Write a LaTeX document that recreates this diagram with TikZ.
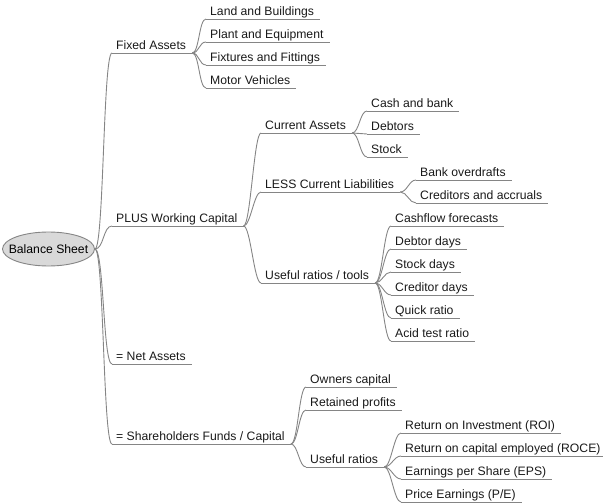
\documentclass[tikz,border=0pt]{standalone}
\usepackage{fontspec}
\setmainfont{Liberation Sans}
\usetikzlibrary{shapes.geometric}

\definecolor{linegray}{HTML}{858585}
\definecolor{rootfill}{HTML}{D9D9D9}

\begin{document}
\begin{tikzpicture}[
  x=1pt, y=-1pt,
  topic/.style={anchor=south west, inner xsep=4pt, inner ysep=1pt, text height=9pt, text depth=2.5pt, font=\fontsize{12.2}{14}\selectfont, text=black!90},
  rootnode/.style={ellipse, draw=linegray, fill=rootfill, line width=0.9pt, minimum width=92pt, minimum height=34pt, inner xsep=-8pt, inner ysep=0pt, font=\fontsize{12.2}{14}\selectfont},
  uline/.style={draw=linegray, line width=0.9pt},
  link/.style={draw=linegray, line width=0.9pt},
]
\useasboundingbox (0,0) rectangle (603,503);

% --- Root ---
\node[rootnode] (root) at (48.5,249) {Balance Sheet};

% --- First level ---
\node[topic] (fa) at (112,53) {Fixed Assets};
\node[topic] (wc) at (112,226) {PLUS Working Capital};
\node[topic] (na) at (112,364) {= Net Assets};
\node[topic] (sf) at (112,444) {= Shareholders Funds / Capital};

% --- Fixed Assets ---
\node[topic] (lb) at (206,19) {Land and Buildings};
\node[topic] (pe) at (206,42) {Plant and Equipment};
\node[topic] (ff) at (206,65) {Fixtures and Fittings};
\node[topic] (mv) at (206,88) {Motor Vehicles};

% --- Working Capital ---
\node[topic] (ca) at (261,133) {Current Assets};
\node[topic] (cl) at (261,192) {LESS Current Liabilities};
\node[topic] (ut) at (261,283) {Useful ratios / tools};

\node[topic] (cb) at (367,111) {Cash and bank};
\node[topic] (db) at (367,134) {Debtors};
\node[topic] (st) at (367,157) {Stock};

\node[topic] (bo) at (416,180) {Bank overdrafts};
\node[topic] (cr) at (416,203) {Creditors and accruals};

\node[topic] (cf) at (391,226) {Cashflow forecasts};
\node[topic] (dd) at (391,249) {Debtor days};
\node[topic] (sd) at (391,272) {Stock days};
\node[topic] (cd) at (391,295) {Creditor days};
\node[topic] (qr) at (391,318) {Quick ratio};
\node[topic] (atr) at (391,341) {Acid test ratio};

% --- Shareholders Funds ---
\node[topic] (oc) at (306,387) {Owners capital};
\node[topic] (rp) at (306,410) {Retained profits};
\node[topic] (ur) at (306,467) {Useful ratios};

\node[topic] (roi) at (401,433) {Return on Investment (ROI)};
\node[topic] (roce) at (401,456) {Return on capital employed (ROCE)};
\node[topic] (eps) at (401,479) {Earnings per Share (EPS)};
\node[topic] (pep) at (401,502) {Price Earnings (P/E)};

% underlines
\foreach \n in {fa,wc,na,sf,lb,pe,ff,mv,ca,cl,ut,cb,db,st,bo,cr,cf,dd,sd,cd,qr,atr,oc,rp,ur,roi,roce,eps,pep}
  \draw[uline] (\n.south west) -- ([xshift=2pt]\n.south east);

% root branches
\foreach \c in {fa,wc,na,sf}
  \draw[link] (root.east) .. controls +(9,0) and +(-9,0) .. (\c.south west);

% sub branches
\foreach \p/\c in {fa/lb,fa/pe,fa/ff,fa/mv,wc/ca,wc/cl,wc/ut,ca/cb,ca/db,ca/st,cl/bo,cl/cr,ut/cf,ut/dd,ut/sd,ut/cd,ut/qr,ut/atr,sf/oc,sf/rp,sf/ur,ur/roi,ur/roce,ur/eps,ur/pep}
  \draw[link] ([xshift=2pt]\p.south east) .. controls +(7,0) and +(-7,0) .. (\c.south west);

\end{tikzpicture}
\end{document}
